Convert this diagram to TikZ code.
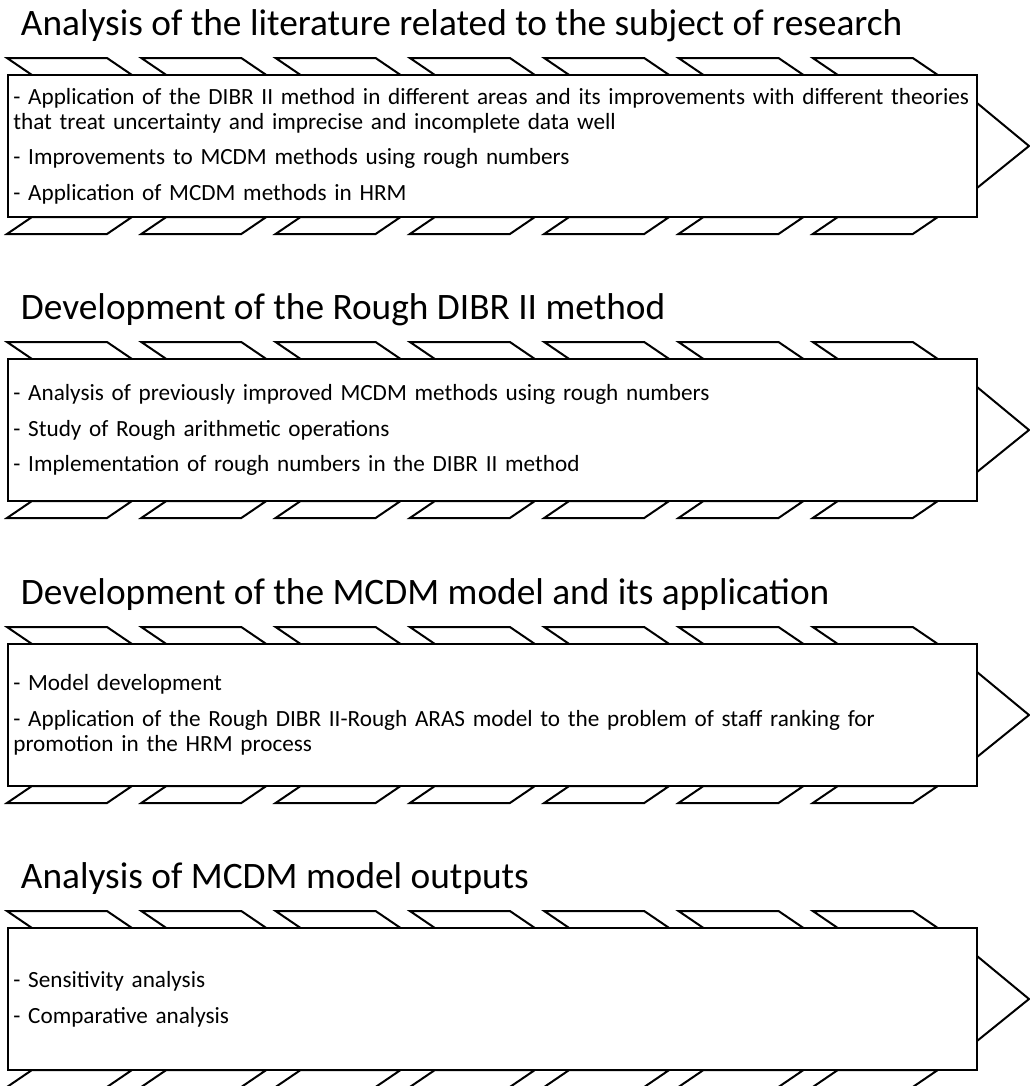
\documentclass[tikz,border=0pt]{standalone}
\usepackage{fontspec}
\setmainfont{Carlito}
\begin{document}
\begin{tikzpicture}[x=0.75pt, y=-0.75pt, line width=1.5pt, line join=miter,
    title/.style={anchor=base west, inner sep=0pt, font=\fontsize{28pt}{33pt}\selectfont},
    stage/.style={rectangle, draw, fill=white, anchor=north west, outer sep=0pt, inner xsep=4pt, inner ysep=0pt, minimum width=726.75pt, minimum height=106.5pt, text width=718.75pt, align=left, font=\fontsize{17.4pt}{18.75pt}\selectfont}]

    \useasboundingbox (0,0) rectangle (1029,1086);

    % Tabs and arrow heads of the four stages.
    \foreach \t in {75,359,644,928} {
        \foreach \k in {0,...,6} {
            \draw (7+134.3*\k,\t-17) -- ++(100,0) -- ++(25,17) -- ++(-100,0) -- cycle;
            \draw (32+134.3*\k,\t+142) -- ++(100,0) -- ++(-25,17) -- ++(-100,0) -- cycle;
        }
        \draw (977,\t+28) -- (1029,\t+71) -- (977,\t+113);
    }

    % Literature.
    \node[title] (title1) at (20,35) {Analysis of the literature related to the subject of research};
    \node[stage] (stage1) at (8,75) {- Application of the DIBR II method in different areas and its improvements with different theories\\that treat uncertainty and imprecise and incomplete data well\\[8pt]- Improvements to MCDM methods using rough numbers\\[8pt]- Application of MCDM methods in HRM};

    % Rough DIBR II.
    \node[title] (title2) at (20,319) {Development of the Rough DIBR II method};
    \node[stage] (stage2) at (8,359) {- Analysis of previously improved MCDM methods using rough numbers\\[8pt]- Study of Rough arithmetic operations\\[8pt]- Implementation of rough numbers in the DIBR II method};

    % Model.
    \node[title] (title3) at (20,604) {Development of the MCDM model and its application};
    \node[stage] (stage3) at (8,644) {- Model development\\[8pt]- Application of the Rough DIBR II-Rough ARAS model to the problem of staff ranking for\\promotion in the HRM process};

    % Outputs.
    \node[title] (title4) at (20,888) {Analysis of MCDM model outputs};
    \node[stage] (stage4) at (8,928) {- Sensitivity analysis\\[8pt]- Comparative analysis};

\end{tikzpicture}
\end{document}
